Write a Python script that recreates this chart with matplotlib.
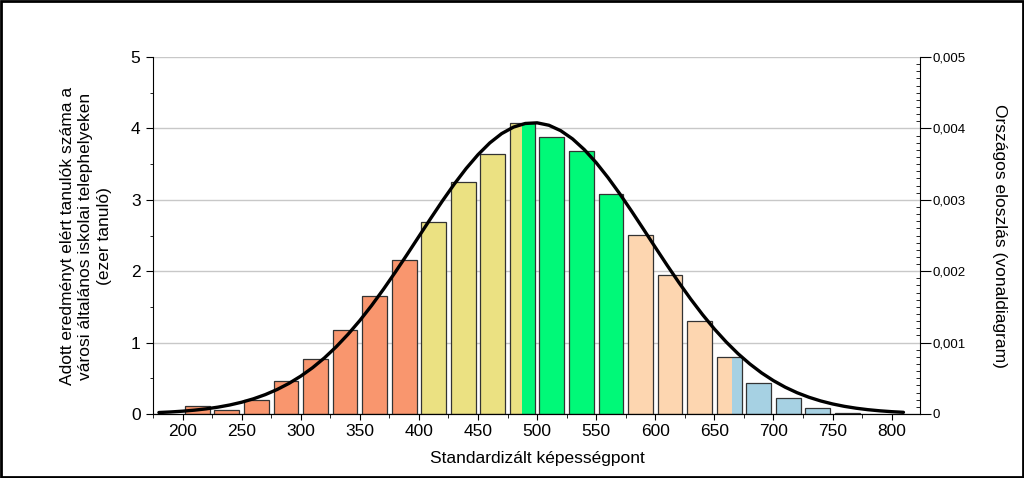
import numpy as np
import matplotlib
matplotlib.use('Agg')
import matplotlib.pyplot as plt
from matplotlib.ticker import MultipleLocator, FuncFormatter
from matplotlib.patches import Rectangle

plt.rcParams['font.family'] = ['Liberation Sans', 'DejaVu Sans']

# bins of 25 points, bar centres and student counts (thousand)
bin_centers = [212.5, 237.5, 262.5, 287.5, 312.5, 337.5, 362.5, 387.5,
               412.5, 437.5, 462.5, 487.5, 512.5, 537.5, 562.5, 587.5,
               612.5, 637.5, 662.5, 687.5, 712.5, 737.5, 762.5]
counts = [0.11, 0.05, 0.20, 0.46, 0.77, 1.18, 1.65, 2.16,
          2.69, 3.25, 3.64, 4.08, 3.88, 3.68, 3.08, 2.51,
          1.95, 1.30, 0.80, 0.44, 0.22, 0.08, 0.015]

# level boundaries (score) and the colours of the levels
level_edges = [400, 487, 575, 665]
level_colors = ['#F9966E', '#EBE182', '#00F978', '#FDD6B0', '#A6D1E3']

# national distribution (density), read every 10 points
curve_x = [180, 190, 200, 210, 220, 230, 240, 250, 260, 270, 280, 290, 300,
           310, 320, 330, 340, 350, 360, 370, 380, 390, 400, 410, 420, 430,
           440, 450, 460, 470, 480, 490, 500, 510, 520, 530, 540, 550, 560,
           570, 580, 590, 600, 610, 620, 630, 640, 650, 660, 670, 680, 690,
           700, 710, 720, 730, 740, 750, 760, 770, 780, 790, 800, 810]
curve_y = [0.0207, 0.0287, 0.0394, 0.0536, 0.0721, 0.0960, 0.1264, 0.1648,
           0.2127, 0.2715, 0.3428, 0.4284, 0.530, 0.648, 0.785, 0.941,
           1.116, 1.309, 1.520, 1.747, 1.986, 2.234, 2.487, 2.740, 2.987,
           3.222, 3.439, 3.632, 3.797, 3.927, 4.018, 4.069, 4.078, 4.044,
           3.968, 3.853, 3.702, 3.520, 3.311, 3.083, 2.840, 2.589, 2.335,
           2.084, 1.841, 1.609, 1.392, 1.191, 1.009, 0.845, 0.701, 0.575,
           0.467, 0.375, 0.298, 0.2347, 0.1827, 0.1408, 0.1073, 0.0810,
           0.0604, 0.0446, 0.0326, 0.0236]
curve_y = [v / 1000 for v in curve_y]

bar_w = 21

fig = plt.figure(figsize=(10.24, 4.78), dpi=100)
ax = fig.add_axes([153/1024, 1-414/478, (920-153)/1024, (414-57)/478])

for c, h in zip(bin_centers, counts):
    left = c - bar_w/2
    right = c + bar_w/2
    # split bar into colour segments at level boundaries
    cuts = [left] + [e for e in level_edges if left < e < right] + [right]
    for a, b in zip(cuts[:-1], cuts[1:]):
        lvl = sum(1 for e in level_edges if (a + b)/2 > e)
        ax.bar(a, h, width=b-a, align='edge', color=level_colors[lvl],
               edgecolor='none', zorder=2)
    ax.bar(left, h, width=bar_w, align='edge', fill=False,
           edgecolor='#333333', linewidth=0.9, zorder=3)

ax.set_xlim(175, 824)
ax.set_ylim(0, 5)
ax.xaxis.set_major_locator(MultipleLocator(50))
ax.xaxis.set_minor_locator(MultipleLocator(25))
ax.yaxis.set_major_locator(MultipleLocator(1))
ax.yaxis.set_minor_locator(MultipleLocator(0.5))
ax.grid(axis='y', color='#C8C8C8', linewidth=1, zorder=0)
ax.set_axisbelow(True)
ax.tick_params(axis='x', which='major', length=4, labelsize=12.5, pad=3)
ax.tick_params(axis='x', which='minor', length=3)
ax.tick_params(axis='y', which='major', length=5, labelsize=12.5, pad=4)
ax.tick_params(axis='y', which='minor', length=2)
ax.spines['top'].set_visible(False)
ax.spines['right'].set_visible(False)

ax2 = ax.twinx()
ax2.plot(curve_x, curve_y, color='black', linewidth=2.4, zorder=5,
         solid_capstyle='round')
ax2.set_ylim(0, 0.005)
ax2.yaxis.set_major_locator(MultipleLocator(0.001))
ax2.yaxis.set_minor_locator(MultipleLocator(0.0001))
ax2.yaxis.set_major_formatter(FuncFormatter(
    lambda v, p: '0' if abs(v) < 1e-12 else ('%.3f' % v).replace('.', ',')))
ax2.tick_params(axis='y', which='major', length=8, direction='out',
                labelsize=9.5, pad=1)
ax2.tick_params(axis='y', which='minor', length=3, direction='in')
ax2.spines['top'].set_visible(False)
ax2.spines['left'].set_visible(False)

fig.text(86/1024, 1-236/478,
         'Adott eredményt elért tanulók száma a\n'
         'városi általános iskolai telephelyeken\n(ezer tanuló)',
         rotation=90, ha='center', va='center', fontsize=12.5,
         multialignment='center', linespacing=1.3)
fig.text(1000/1024, 1-236/478, 'Országos eloszlás (vonaldiagram)',
         rotation=270, ha='center', va='center', fontsize=12.5)
fig.text(537/1024, 1-458/478, 'Standardizált képességpont',
         ha='center', va='center', fontsize=12.5)

fig.add_artist(Rectangle((0.001, 0.002), 0.998, 0.996,
                         transform=fig.transFigure, fill=False,
                         edgecolor='black', linewidth=2))

fig.savefig('out.png', dpi=100)
